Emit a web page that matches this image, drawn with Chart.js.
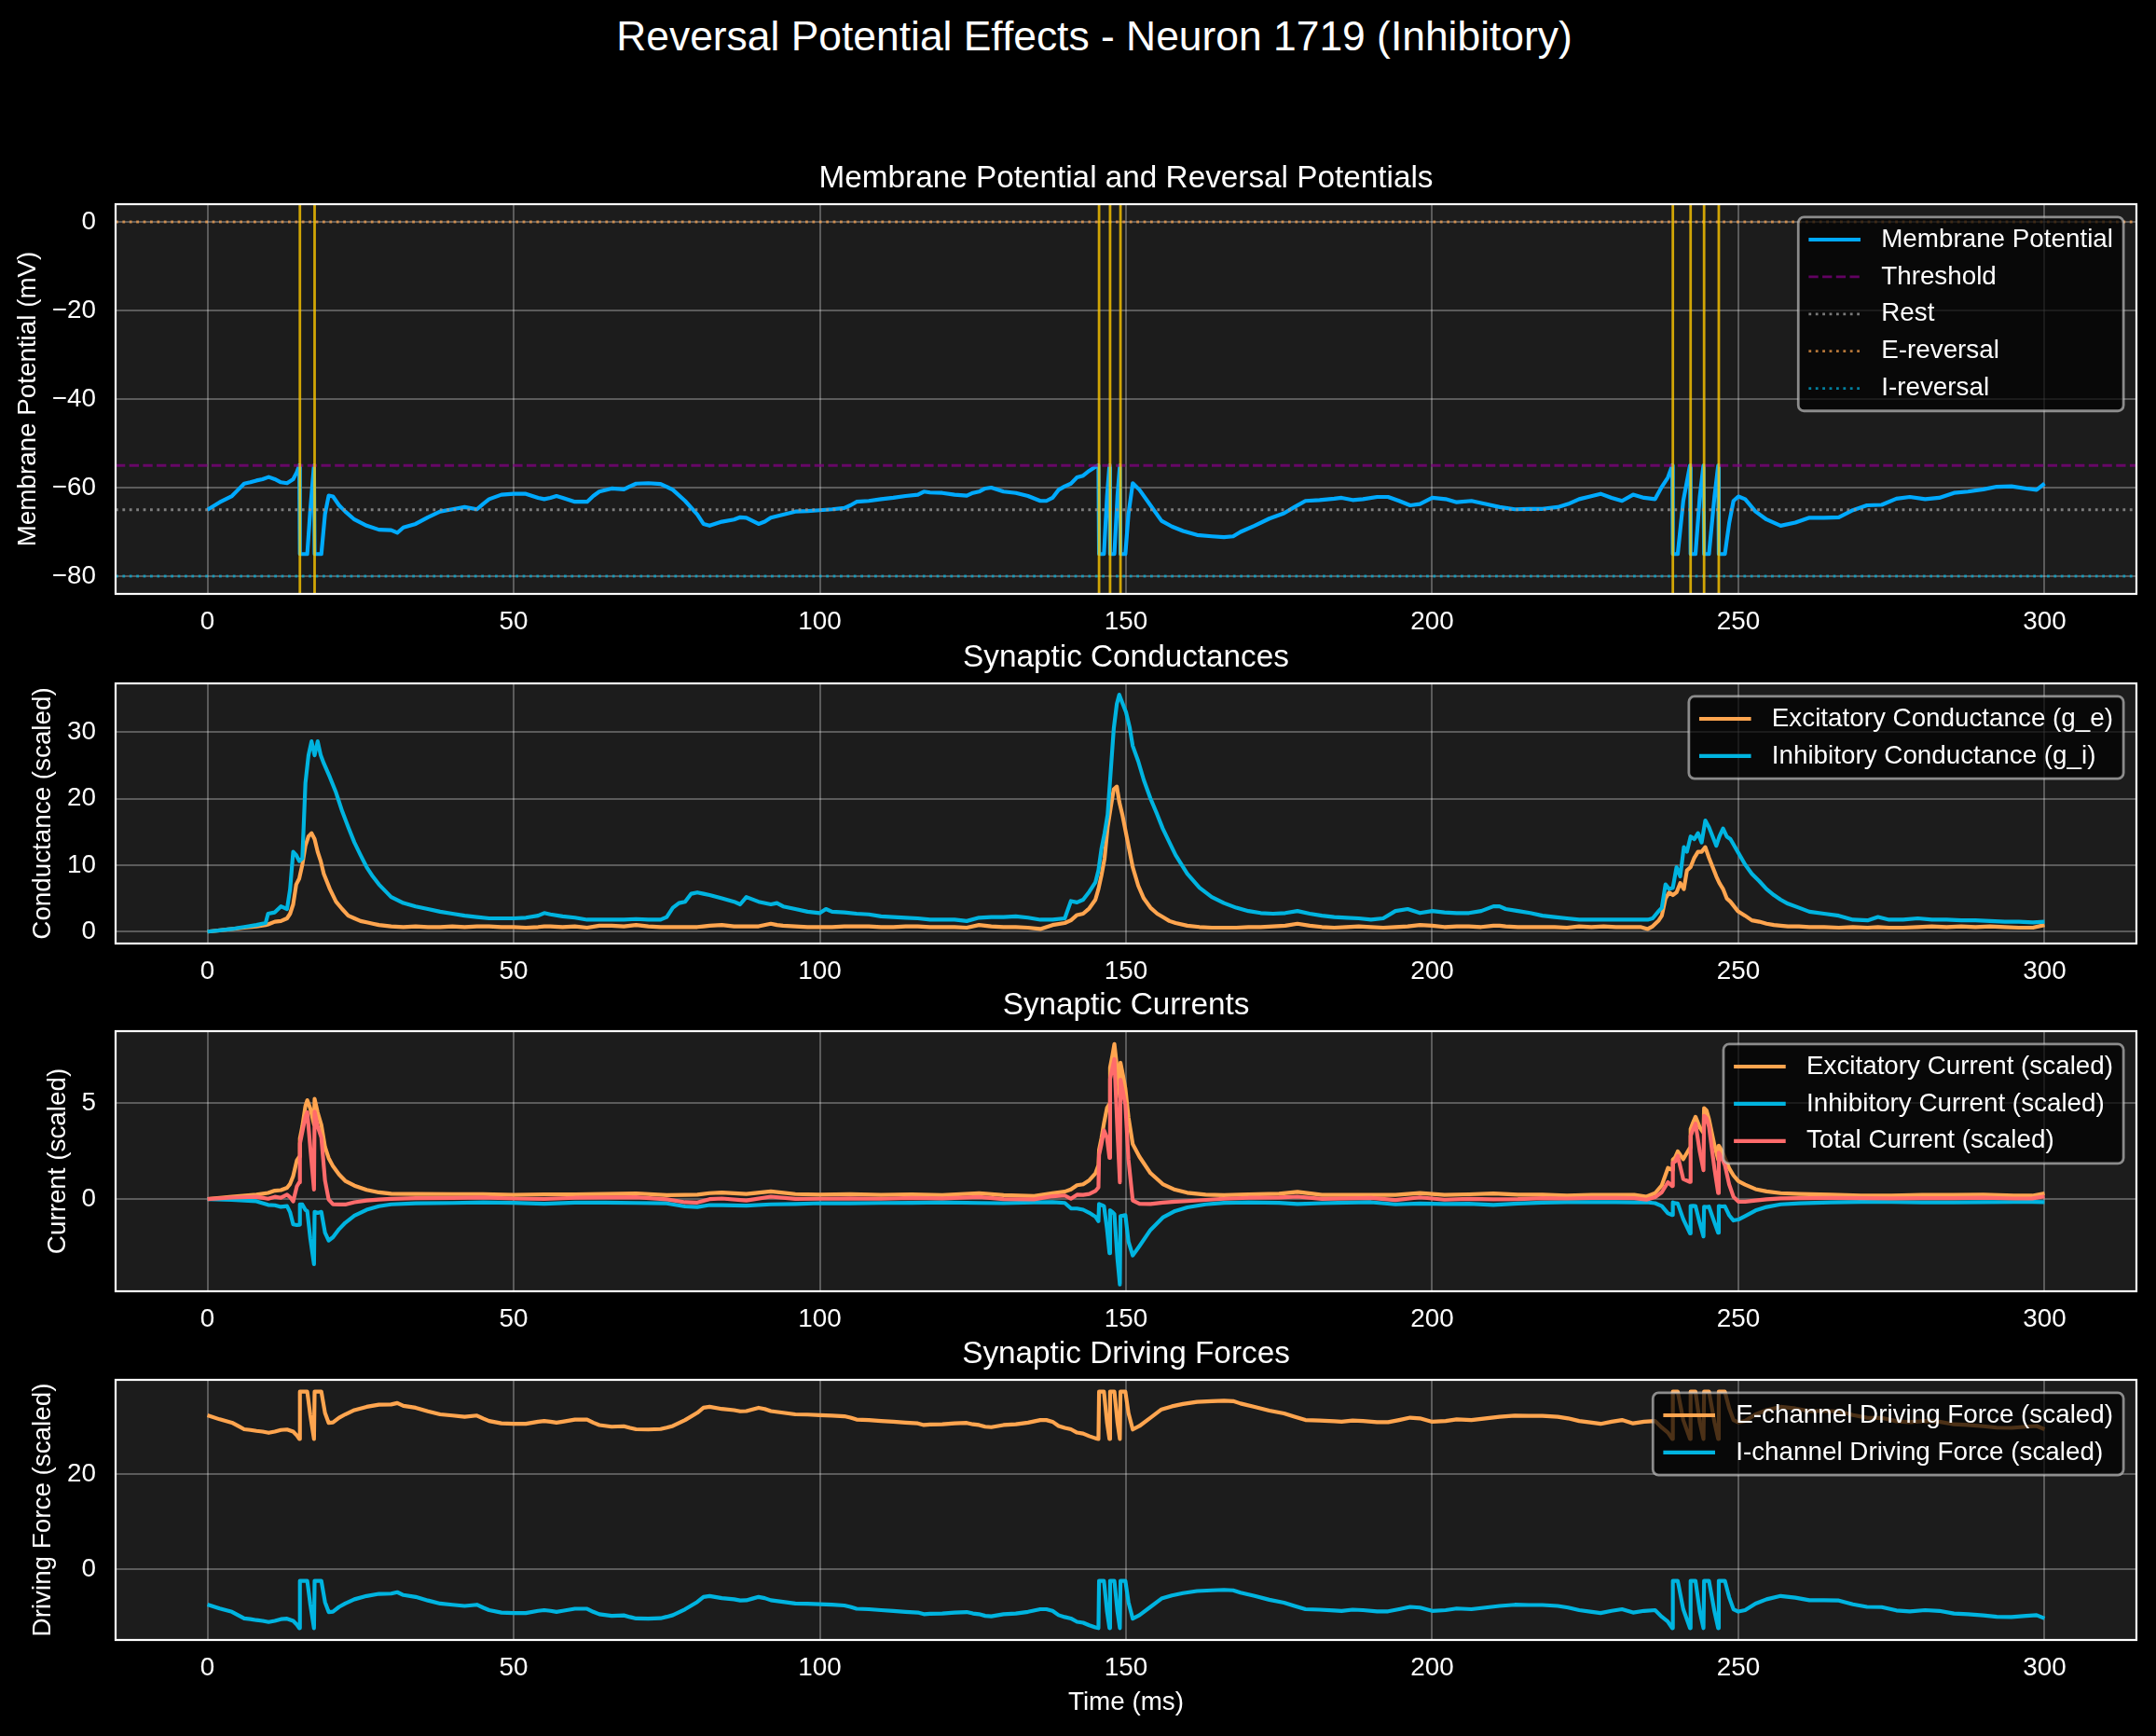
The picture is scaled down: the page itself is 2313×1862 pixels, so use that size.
<!DOCTYPE html>
<html><head><meta charset="utf-8">
<script src="https://cdn.jsdelivr.net/npm/chart.js@4.4.1/dist/chart.umd.min.js"></script>
<style>
html,body{margin:0;padding:0;background:#000;width:2313px;height:1862px;overflow:hidden;}
#sup{position:absolute;left:0;width:2348px;top:17px;text-align:center;color:#fff;font:44.4px "Liberation Sans",Arial,sans-serif;line-height:1;white-space:nowrap;}
canvas{position:absolute;left:0;}
</style></head><body>
<div id="sup">Reversal Potential Effects - Neuron 1719 (Inhibitory)</div>
<canvas id="c1"></canvas><canvas id="c2"></canvas><canvas id="c3"></canvas><canvas id="c4"></canvas>
<script>
// ---------- data ----------
const X_TICKS = [0,50,100,150,200,250,300];
const SPIKE_TIMES = [15.1,17.5,145.6,147.4,149.1,239.3,242.2,244.4,246.8];
const REF_LEVELS = {threshold:-55, rest:-65, eRev:0, iRev:-80};

const T_V = [0,2,4,5,6,7,8,9,10,11,12,13,14,14.6,15.0,
15.1,16.3,16.8,17.4,17.5,18.6,19.2,19.8,20.5,21.5,22.5,24,26,28,30,31,32,34,36,38,40,42,44,45,46,48,50,52,54,55,56,57,58,60,62,63,64,66,68,69,70,72,74,75,76,78,80,81,82,84,86,87,88,89,90,91,92,94,96,98,100,102,104,105,106,108,110,112,114,116,117,118,120,122,124,125,126,127,128,130,132,134,136,137,138,139,140,141,142,143,144,145,145.5,
145.6,146.4,146.9,147.3,147.4,148.1,148.6,149.0,149.1,149.9,150.4,151.1,152.2,154,155.8,157.5,159.3,161.6,164,166,167.5,168.7,171,173.4,175.8,177.5,179.3,181.6,184,185.2,187,188.7,191,192.8,194.6,196.4,198,200,202.2,204,206.4,208.7,211,213.5,215.8,218,220.5,222.2,224,225.8,227.5,229.3,231,232.8,234.6,236.4,237.5,238.5,239.2,
239.3,240.1,241.0,242.1,242.2,243.0,243.7,244.3,244.4,245.2,246.1,246.7,246.8,247.8,248.5,249.2,250,251.1,252.8,254.6,256.9,259.3,261.6,264,266.4,268.7,271,273.4,275.8,278,280.5,282.8,285.2,287.5,290,292.2,294.6,297,298.7,300];

const V_MEM = [-65,-63.3,-61.9,-60.5,-59.1,-58.8,-58.4,-58.1,-57.6,-58.1,-58.8,-59,-58.1,-56.5,-55,
-75,-75,-65,-55,-75,-75,-66,-61.8,-62,-64,-65.4,
-67.2,-68.6,-69.5,-69.6,-70.2,-69.0,-68.2,-66.7,-65.4,-64.9,
-64.4,-64.9,-63.7,-62.6,-61.6,-61.4,-61.4,-62.3,-62.6,-62.3,
-61.9,-62.3,-63.2,-63.2,-61.9,-60.9,-60.2,-60.4,-59.7,-59.1,
-59.0,-59.2,-59.8,-60.5,-63.0,-66.1,-68.2,-68.6,-67.7,-67.2,
-66.7,-66.8,-67.5,-68.2,-67.7,-66.8,-66.1,-65.4,-65.3,-65.1,
-64.9,-64.6,-64.0,-63.2,-63.0,-62.6,-62.3,-61.9,-61.6,-60.9,
-61.1,-61.2,-61.6,-61.8,-61.2,-60.9,-60.2,-60.0,-60.9,-61.2,
-61.9,-63.0,-63.0,-62.3,-60.5,-59.7,-59.1,-57.7,-57.3,-56.2,
-55.3,-55.0,
-75,-75,-62,-55,-75,-75,-62,-55,-75,-75,
-66,-59,-60.5,-64,-67.5,-68.8,-69.8,-70.7,-71,-71.2,
-71,-70,-68.6,-67,-65.8,-64.4,-63,-62.8,-62.5,-62.3,
-62.8,-62.6,-62.1,-62.1,-63,-64,-63.7,-62.3,-62.6,-63.3,
-63,-63.7,-64.4,-64.9,-64.8,-64.8,-64.4,-63.7,-62.6,-62,
-61.4,-62.3,-63,-61.6,-62.3,-62.6,-59.8,-57.7,-55,
-75,-75,-63,-55,-75,-75,-62,-55,-75,-75,
-62,-55,-75,-75,-68,-63,-62,-62.6,-65.4,-67.2,
-68.6,-67.9,-66.8,-66.8,-66.7,-65.1,-64,-63.9,-62.5,-62.1,
-62.6,-62.3,-61.2,-60.9,-60.4,-59.8,-59.7,-60.2,-60.5,-59.1];

const DF_E = [32.5,31.65,30.95,30.25,29.55,29.4,29.2,29.05,28.8,29.05,29.4,29.5,29.05,28.25,27.5,
37.5,37.5,32.5,27.5,37.5,37.5,33,30.9,31,32,32.7,
33.6,34.3,34.75,34.8,35.1,34.5,34.1,33.35,32.7,32.45,
32.2,32.45,31.85,31.3,30.8,30.7,30.7,31.15,31.3,31.15,
30.95,31.15,31.6,31.6,30.95,30.45,30.1,30.2,29.85,29.55,
29.5,29.6,29.9,30.25,31.5,33.05,34.1,34.3,33.85,33.6,
33.35,33.4,33.75,34.1,33.85,33.4,33.05,32.7,32.65,32.55,
32.45,32.3,32,31.6,31.5,31.3,31.15,30.95,30.8,30.45,
30.55,30.6,30.8,30.9,30.6,30.45,30.1,30,30.45,30.6,
30.95,31.5,31.5,31.15,30.25,29.85,29.55,28.85,28.65,28.1,
27.65,27.5,
37.5,37.5,31,27.5,37.5,37.5,31,27.5,37.5,37.5,
33,29.5,30.25,32,33.75,34.4,34.9,35.35,35.5,35.6,
35.5,35,34.3,33.5,32.9,32.2,31.5,31.4,31.25,31.15,
31.4,31.3,31.05,31.05,31.5,32,31.85,31.15,31.3,31.65,
31.5,31.85,32.2,32.45,32.4,32.4,32.2,31.85,31.3,31,
30.7,31.15,31.5,30.8,31.15,31.3,29.9,28.85,27.5,
37.5,37.5,31.5,27.5,37.5,37.5,31,27.5,37.5,37.5,
31,27.5,37.5,37.5,34,31.5,31,31.3,32.7,33.6,
34.3,33.95,33.4,33.4,33.35,32.55,32,31.95,31.25,31.05,
31.3,31.15,30.6,30.45,30.2,29.9,29.85,30.1,30.25,29.55];

const DF_I = [-7.5,-8.35,-9.05,-9.75,-10.45,-10.6,-10.8,-10.95,-11.2,-10.95,-10.6,-10.5,-10.95,-11.75,-12.5,
-2.5,-2.5,-7.5,-12.5,-2.5,-2.5,-7,-9.1,-9,-8,-7.3,
-6.4,-5.7,-5.25,-5.2,-4.9,-5.5,-5.9,-6.65,-7.3,-7.55,
-7.8,-7.55,-8.15,-8.7,-9.2,-9.3,-9.3,-8.85,-8.7,-8.85,
-9.05,-8.85,-8.4,-8.4,-9.05,-9.55,-9.9,-9.8,-10.15,-10.45,
-10.5,-10.4,-10.1,-9.75,-8.5,-6.95,-5.9,-5.7,-6.15,-6.4,
-6.65,-6.6,-6.25,-5.9,-6.15,-6.6,-6.95,-7.3,-7.35,-7.45,
-7.55,-7.7,-8,-8.4,-8.5,-8.7,-8.85,-9.05,-9.2,-9.55,
-9.45,-9.4,-9.2,-9.1,-9.4,-9.55,-9.9,-10,-9.55,-9.4,
-9.05,-8.5,-8.5,-8.85,-9.75,-10.15,-10.45,-11.15,-11.35,-11.9,
-12.35,-12.5,
-2.5,-2.5,-9,-12.5,-2.5,-2.5,-9,-12.5,-2.5,-2.5,
-7,-10.5,-9.75,-8,-6.25,-5.6,-5.1,-4.65,-4.5,-4.4,
-4.5,-5,-5.7,-6.5,-7.1,-7.8,-8.5,-8.6,-8.75,-8.85,
-8.6,-8.7,-8.95,-8.95,-8.5,-8,-8.15,-8.85,-8.7,-8.35,
-8.5,-8.15,-7.8,-7.55,-7.6,-7.6,-7.8,-8.15,-8.7,-9,
-9.3,-8.85,-8.5,-9.2,-8.85,-8.7,-10.1,-11.15,-12.5,
-2.5,-2.5,-8.5,-12.5,-2.5,-2.5,-9,-12.5,-2.5,-2.5,
-9,-12.5,-2.5,-2.5,-6,-8.5,-9,-8.7,-7.3,-6.4,
-5.7,-6.05,-6.6,-6.6,-6.65,-7.45,-8,-8.05,-8.75,-8.95,
-8.7,-8.85,-9.4,-9.55,-9.8,-10.1,-10.15,-9.9,-9.75,-10.45];

const T_G = [0,2,4,5,6,8,9.5,9.9,11,12,13,13.5,14,14.5,15,15.5,16,16.5,17,17.5,
18,18.5,19,20,21,22,23,24,25,26,27,28,30,32,34,36,38,40,42,44,
46,48,50,52,54,55,56,58,60,62,64,66,68,70,72,74,75,76,77,78,
79,80,81,82,84,86,87,88,90,92,93,94,96,98,100,101,102,104,106,108,
110,112,114,116,118,120,122,124,126,128,130,132,134,136,138,140,141,142,143,144,
145,145.5,146,146.5,147,147.5,148,148.5,148.9,149.4,150,150.6,151.1,152,152.9,154,155.1,156,157.1,158.1,
160,162,164,166,168,170,172,174,176,178,180,182,184,186,188,190,192,194,196,198,
200,202,204,206,208,210,211,212,214,216,218,220,222,224,226,228,230,232,234,235.2,
236,237,237.5,238.1,238.7,239.3,239.9,240.5,241.1,241.6,242.2,242.8,243.4,244,244.6,245.2,245.8,246.4,246.9,247.5,
248.1,248.7,249.9,251.1,252.2,253.4,254.6,255.8,256.9,258.1,259.9,261.6,264,266.4,268.7,271.1,272.8,274.6,276.9,279.3,
281.6,284,286.4,288.7,291.1,293.5,295.8,298.1,300];

const G_E = [0,.2,.4,.5,.6,.8,1.0,1.1,1.5,1.6,2.0,2.7,4.1,7.1,8.0,10.1,12.9,14.3,14.8,13.9,
12.0,10.6,8.7,6.4,4.5,3.4,2.4,2.0,1.6,1.4,1.2,1.0,.8,.7,.8,.7,.7,.8,.7,.8,
.8,.7,.7,.6,.7,.8,.8,.7,.8,.6,.9,.9,.8,1.0,.8,.7,.7,.7,.7,.7,
.7,.7,.8,.9,1.0,.8,.8,.8,.8,1.2,1.0,.9,.8,.7,.7,.7,.7,.8,.8,.8,
.7,.7,.8,.8,.7,.7,.7,.6,1.0,.8,.7,.7,.6,.4,1.0,1.3,1.7,2.5,2.7,3.5,
4.8,6.4,8.5,11.0,15.7,18.6,21.4,21.8,19.5,17.6,14.8,12.0,9.7,6.9,5.0,3.6,2.7,2.2,1.6,1.3,
.9,.7,.6,.6,.6,.7,.7,.8,.9,1.2,.9,.7,.6,.7,.8,.7,.6,.7,.8,1.0,
.9,.7,.8,.8,.7,.9,.9,.8,.7,.7,.7,.7,.6,.8,.7,.8,.7,.7,.7,.4,
.8,1.7,2.4,5.0,5.9,5.5,5.9,7.3,6.4,9.2,9.7,11.1,12.0,12.0,12.7,11.1,9.7,8.3,7.3,6.4,
5.0,4.5,3.1,2.4,1.7,1.5,1.2,1.0,.9,.8,.8,.7,.7,.6,.7,.6,.7,.6,.6,.7,
.8,.7,.8,.7,.8,.7,.6,.6,1.0];

const G_I = [0,.2,.4,.56,.7,1.0,1.3,2.7,2.9,3.8,3.4,6.4,12.0,11.5,10.6,11.0,22.3,26.5,28.6,26.5,
28.6,26.5,25.3,23.2,20.9,18.1,15.7,13.4,11.5,9.7,8.3,7.1,5.2,4.3,3.8,3.4,3.0,2.7,2.4,2.2,
2.0,2.0,2.0,2.1,2.4,2.8,2.6,2.3,2.1,1.8,1.8,1.8,1.8,1.9,1.8,1.8,2.2,3.6,4.3,4.5,
5.7,5.9,5.7,5.5,5.0,4.5,4.1,5.2,4.5,4.1,4.3,3.8,3.4,3.0,2.8,3.4,3.0,2.9,2.7,2.6,
2.3,2.2,2.1,2.0,1.8,1.8,1.8,1.6,2.1,2.2,2.2,2.3,2.1,1.8,1.8,2.0,4.6,4.4,4.8,6.0,
7.4,9.2,12.5,14.8,17.6,24.0,30.5,34.2,35.6,34.4,33.0,30.7,27.9,25.6,22.8,20.0,17.6,15.5,13.4,11.5,
8.7,6.6,5.2,4.3,3.6,3.1,2.8,2.7,2.8,3.1,2.7,2.4,2.2,2.1,2.0,1.8,2.0,3.1,3.4,2.8,
3.1,2.9,2.8,2.8,3.1,3.8,3.8,3.4,3.1,2.8,2.4,2.2,2.0,1.8,1.8,1.8,1.8,1.8,1.8,1.8,
2.0,3.1,3.6,7.1,6.4,6.6,9.7,8.3,12.7,12.0,14.3,13.9,14.8,13.4,16.7,15.7,14.3,12.9,14.3,15.5,
14.3,13.9,12.0,10.1,8.7,7.6,6.4,5.5,4.8,4.2,3.6,3.0,2.7,2.4,1.8,1.7,2.2,1.8,1.8,2.0,
1.8,1.8,1.7,1.7,1.6,1.5,1.5,1.4,1.5];

const T_C = [0,4,8,9.9,11,12,13,13.5,14,14.6,15.0,15.1,15.5,16,16.3,16.8,17.4,17.5,18,18.6,
19.2,19.8,20.5,21.5,22.5,24,26,28,30,34,40,45,50,55,60,65,70,75,78,80,
82,84,88,92,96,100,105,110,115,120,126,130,135,138,140,141,142,143,144,145,
145.5,145.6,146,146.4,146.9,147.3,147.4,147.8,148.1,148.6,149.0,149.1,149.5,149.9,150.4,151.1,152.2,154,156,158,
160,163,166,170,175,178,182,186,190,194,198,202,206,210,214,218,222,226,230,233,
235,236.4,237.5,238.5,239.2,239.3,239.7,240.1,241.0,242.1,242.2,242.6,243.0,243.7,244.3,244.4,244.8,245.2,246.1,246.7,
246.8,247.3,247.8,248.5,249.2,250,251.1,252.8,254.6,256.9,260,265,270,275,280,285,290,295,298,300];

const I_E = [0,.12,.23,.32,.44,.47,.59,.79,1.19,2.01,2.20,3.15,3.79,4.84,5.14,4.71,3.88,5.21,4.50,3.86,
2.71,2.13,1.71,1.28,.95,.70,.48,.35,.28,.27,.26,.26,.22,.25,.25,.27,.30,.21,.22,.23,
.31,.34,.27,.40,.26,.23,.26,.22,.25,.21,.31,.21,.16,.31,.39,.50,.72,.77,.98,1.33,
1.76,2.55,3.19,3.94,4.74,4.95,6.83,7.50,8.06,6.63,5.31,7.09,6.45,5.74,4.26,2.86,2.20,1.35,.78,.49,
.33,.23,.21,.24,.28,.38,.22,.22,.22,.22,.32,.22,.25,.29,.23,.23,.19,.22,.22,.22,
.13,.31,.72,1.62,1.51,2.06,2.18,2.48,2.08,2.67,3.64,3.98,4.28,3.72,3.44,4.73,4.61,4.16,2.79,2.06,
2.78,2.51,2.14,1.60,1.23,.93,.75,.52,.40,.31,.27,.23,.19,.19,.22,.22,.23,.18,.18,.30];

const I_I = [0,-.04,-.11,-.30,-.32,-.40,-.36,-.69,-1.31,-1.35,-1.33,-.27,-.28,-.56,-.62,-2.05,-3.38,-.66,-.72,-.66,
-1.74,-2.15,-1.98,-1.56,-1.23,-.86,-.55,-.37,-.27,-.22,-.20,-.17,-.19,-.24,-.18,-.18,-.20,-.22,-.38,-.41,
-.31,-.31,-.34,-.27,-.25,-.21,-.22,-.20,-.19,-.17,-.20,-.21,-.17,-.16,-.20,-.48,-.49,-.55,-.71,-.91,
-1.15,-.25,-.31,-.36,-1.56,-2.81,-.58,-.68,-.78,-3.10,-4.44,-.88,-.86,-.83,-2.20,-2.93,-2.44,-1.60,-.96,-.62,
-.43,-.27,-.19,-.17,-.19,-.25,-.21,-.18,-.16,-.27,-.23,-.25,-.24,-.30,-.23,-.18,-.16,-.16,-.16,-.17,
-.16,-.21,-.36,-.74,-.83,-.17,-.22,-.23,-1.04,-1.78,-.36,-.35,-.36,-1.26,-1.94,-.40,-.41,-.39,-1.22,-1.75,
-.36,-.38,-.37,-.84,-1.11,-1.06,-.88,-.59,-.41,-.27,-.22,-.17,-.14,-.15,-.17,-.17,-.16,-.15,-.14,-.16];

const I_TOT = [0,.08,.12,.02,.12,.07,.23,.10,-.12,.66,.87,2.88,3.51,4.28,4.52,2.66,.50,4.55,3.78,3.20,
.97,-.02,-.27,-.28,-.28,-.16,-.07,-.02,.01,.05,.06,.09,.03,.01,.07,.09,.10,-.01,-.16,-.18,
.00,.03,-.07,.13,.01,.02,.04,.02,.06,.04,.11,.00,-.01,.15,.19,.02,.23,.22,.27,.42,
.61,2.30,2.88,3.58,3.18,2.14,6.25,6.82,7.28,3.53,.87,6.21,5.59,4.91,2.06,-.07,-.24,-.25,-.18,-.13,
-.10,-.04,.02,.07,.09,.13,.01,.04,.06,-.05,.09,-.03,.01,-.01,.00,.05,.03,.06,.06,.05,
-.03,.10,.36,.88,.68,1.89,1.96,2.25,1.04,.89,3.28,3.63,3.92,2.46,1.50,4.33,4.20,3.77,1.57,.31,
2.42,2.13,1.77,.76,.12,-.13,-.13,-.07,-.01,.04,.05,.06,.05,.04,.05,.05,.07,.03,.04,.14];

// ---------- styling ----------
const X_MIN = -15, X_MAX = 315;
const FONT = '"Liberation Sans", Arial, Helvetica, sans-serif';
const FS = 27.8;
const C_VM = '#00aaff', C_OR = '#ffa54f', C_CY = '#00b4e0', C_RD = '#ff6b6b';
const GRID = 'rgba(255,255,255,0.28)';
const AX_BG = '#1c1c1c';
const LW = 4.17, LW_THIN = 2.78;
const DASH = [10.3, 4.4], DOT = [2.8, 4.6];

Chart.defaults.font.family = FONT;
Chart.defaults.color = '#fff';

const pts = (T, Y) => T.map((t, i) => ({x: t, y: Y[i]}));
const fmt = v => (v < 0 ? '\u2212' : '') + Math.abs(v);

const axesPlugin = {
  id: 'mplAxes',
  beforeDraw(chart) {
    const {ctx, chartArea: a} = chart;
    ctx.save(); ctx.fillStyle = AX_BG; ctx.fillRect(a.left, a.top, a.width, a.height); ctx.restore();
  },
  afterDatasetsDraw(chart) {
    const {ctx, chartArea: a} = chart;
    ctx.save();
    ctx.strokeStyle = '#fff'; ctx.lineWidth = 2.2;
    ctx.strokeRect(a.left, a.top, a.width, a.height);
    // legend
    const items = chart.data.datasets.filter(d => d.inLegend);
    if (items.length) {
      ctx.font = FS + 'px ' + FONT;
      const pad = 0.4 * FS, hl = 2 * FS, htp = 0.8 * FS, ls = 0.5 * FS, bap = 0.5 * FS, h = 26;
      const tw = Math.max(...items.map(d => ctx.measureText(d.label).width));
      const w = pad + hl + htp + tw + pad;
      const H = 2 * pad + items.length * h + (items.length - 1) * ls;
      const x0 = a.right - bap - w, y0 = a.top + bap;
      ctx.beginPath();
      if (ctx.roundRect) ctx.roundRect(x0, y0, w, H, 6); else ctx.rect(x0, y0, w, H);
      ctx.fillStyle = 'rgba(0,0,0,0.7)'; ctx.fill();
      ctx.strokeStyle = 'rgba(204,204,204,0.65)'; ctx.lineWidth = 2.78; ctx.stroke();
      items.forEach((d, i) => {
        const cy = y0 + pad + h / 2 + i * (h + ls);
        ctx.save();
        ctx.strokeStyle = d.borderColor; ctx.lineWidth = d.borderWidth;
        ctx.setLineDash(d.borderDash || []);
        ctx.beginPath(); ctx.moveTo(x0 + pad, cy); ctx.lineTo(x0 + pad + hl, cy); ctx.stroke();
        ctx.restore();
        ctx.fillStyle = '#fff'; ctx.textBaseline = 'middle'; ctx.textAlign = 'left';
        ctx.fillText(d.label, x0 + pad + hl + htp, cy);
      });
    }
    ctx.restore();
  }
};

function series(label, T, Y, color, extra) {
  return Object.assign({label, data: pts(T, Y), borderColor: color, borderWidth: LW, inLegend: true}, extra || {});
}
function hline(label, y, color, dash) {
  return {label, data: [{x: X_MIN, y}, {x: X_MAX, y}], borderColor: color, borderWidth: LW_THIN, borderDash: dash, inLegend: true};
}

function makePanel(id, cfg) {
  const canvas = document.getElementById(id);
  const top = cfg.chartTop - 60;
  const height = cfg.chartBottom + cfg.xAxisH - top;
  canvas.width = 2313; canvas.height = height;
  canvas.style.top = top + 'px'; canvas.style.width = '2313px'; canvas.style.height = height + 'px';
  const tSize = 33.3, tLH = 1.2, tPadB = 7.2;
  const padTop = (cfg.chartTop - top) - (tSize * tLH + tPadB);
  cfg.datasets.forEach((d, i) => {
    d.order = -i; d.pointRadius = 0; d.pointHoverRadius = 0; d.fill = false; d.tension = 0;
    d.borderJoinStyle = 'round'; d.backgroundColor = d.borderColor;
  });
  return new Chart(canvas, {
    type: 'line',
    data: {datasets: cfg.datasets},
    options: {
      responsive: false, animation: false, devicePixelRatio: 1, events: [],
      layout: {padding: {top: padTop, left: 0, right: 2313 - 2292, bottom: 0}},
      plugins: {
        legend: {display: false}, tooltip: {enabled: false},
        title: {display: true, fullSize: false, text: cfg.title, color: '#fff', font: {size: tSize, weight: 'normal', lineHeight: tLH}, padding: {top: 0, bottom: tPadB}}
      },
      scales: {
        x: {
          type: 'linear', min: X_MIN, max: X_MAX,
          afterBuildTicks: s => { s.ticks = X_TICKS.map(v => ({value: v})); },
          afterFit: s => { s.height = cfg.xAxisH; },
          grid: {color: GRID, lineWidth: 2, drawTicks: false},
          border: {display: false},
          ticks: {color: '#fff', font: {size: FS}, padding: 14, maxRotation: 0, autoSkip: false, callback: v => fmt(v)},
          title: cfg.xTitle ? {display: true, text: cfg.xTitle, color: '#fff', font: {size: FS}, padding: {top: 0, bottom: 16}} : {display: false}
        },
        y: {
          type: 'linear', min: cfg.yMin, max: cfg.yMax,
          afterBuildTicks: s => { s.ticks = cfg.yTicks.map(v => ({value: v})); },
          afterFit: s => { s.width = 124; },
          grid: {color: GRID, lineWidth: 2, drawTicks: false},
          border: {display: false},
          ticks: {color: '#fff', font: {size: FS}, padding: 21, autoSkip: false, callback: v => fmt(v)},
          title: {display: true, text: cfg.yTitle, color: '#fff', font: {size: FS}, padding: {top: cfg.yTitlePad, bottom: 0}}
        }
      }
    },
    plugins: [axesPlugin]
  });
}

// Panel 1
const P1_Y = [-84, 4];
const p1 = [
  series('Membrane Potential', T_V, V_MEM, C_VM),
  hline('Threshold', REF_LEVELS.threshold, 'rgba(128,0,128,0.75)', DASH),
  hline('Rest', REF_LEVELS.rest, 'rgba(150,150,150,0.8)', DOT),
  hline('E-reversal', REF_LEVELS.eRev, 'rgba(255,165,79,0.7)', DOT),
  hline('I-reversal', REF_LEVELS.iRev, 'rgba(0,180,224,0.7)', DOT)
];
SPIKE_TIMES.forEach(ts => p1.push({label: 'spike', data: [{x: ts, y: P1_Y[0]}, {x: ts, y: P1_Y[1]}], borderColor: 'rgba(255,200,0,0.8)', borderWidth: LW_THIN, inLegend: false}));
makePanel('c1', {chartTop: 219, chartBottom: 637, xAxisH: 60, yMin: P1_Y[0], yMax: P1_Y[1], yTicks: [-80,-60,-40,-20,0],
  title: 'Membrane Potential and Reversal Potentials', yTitle: 'Membrane Potential (mV)', yTitlePad: 14, datasets: p1});

// Panel 2
makePanel('c2', {chartTop: 733, chartBottom: 1012, xAxisH: 60, yMin: -1.78, yMax: 37.3, yTicks: [0,10,20,30],
  title: 'Synaptic Conductances', yTitle: 'Conductance (scaled)', yTitlePad: 30, datasets: [
    series('Excitatory Conductance (g_e)', T_G, G_E, C_OR),
    series('Inhibitory Conductance (g_i)', T_G, G_I, C_CY)
  ]});

// Panel 3
makePanel('c3', {chartTop: 1106, chartBottom: 1385, xAxisH: 60, yMin: -4.79, yMax: 8.73, yTicks: [0,5],
  title: 'Synaptic Currents', yTitle: 'Current (scaled)', yTitlePad: 46, datasets: [
    series('Excitatory Current (scaled)', T_C, I_E, C_OR),
    series('Inhibitory Current (scaled)', T_C, I_I, C_CY),
    series('Total Current (scaled)', T_C, I_TOT, C_RD)
  ]});

// Panel 4
makePanel('c4', {chartTop: 1480, chartBottom: 1759, xAxisH: 100, yMin: -15, yMax: 40, yTicks: [0,20],
  title: 'Synaptic Driving Forces', yTitle: 'Driving Force (scaled)', yTitlePad: 30, xTitle: 'Time (ms)', datasets: [
    series('E-channel Driving Force (scaled)', T_V, DF_E, C_OR),
    series('I-channel Driving Force (scaled)', T_V, DF_I, C_CY)
  ]});
</script>
</body></html>
